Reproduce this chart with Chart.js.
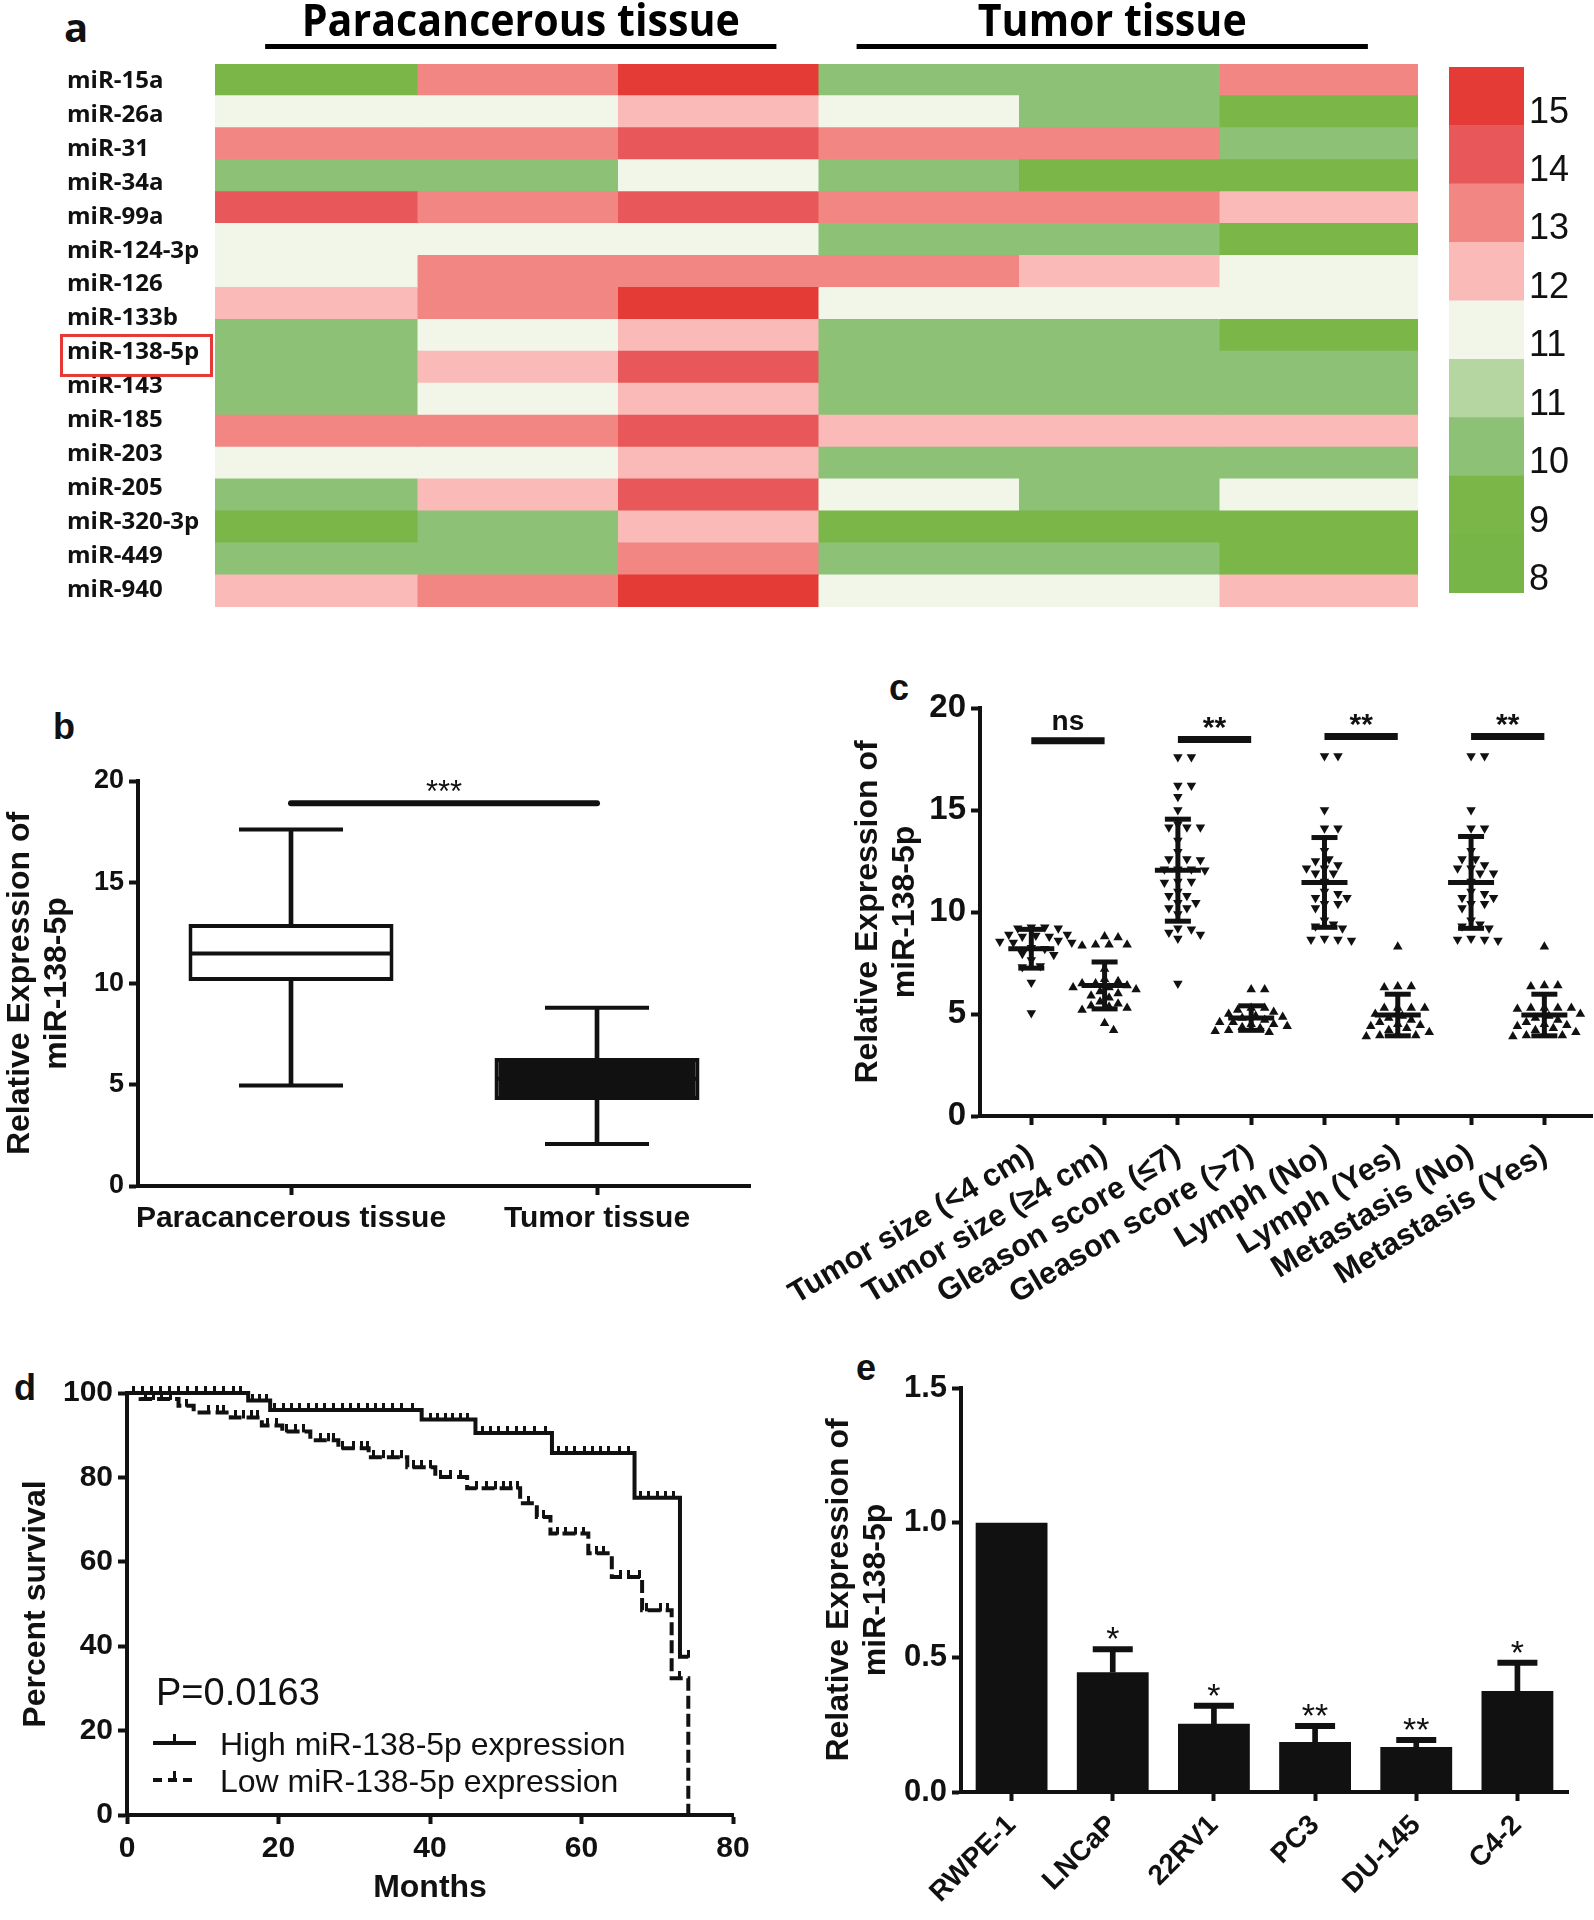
<!DOCTYPE html>
<html>
<head>
<meta charset="utf-8">
<script src="https://cdn.jsdelivr.net/npm/chart.js@4.4.1/dist/chart.umd.min.js"></script>
<style>
  body { margin: 0; background: #fff; width: 1594px; height: 1920px; position: relative; overflow: hidden; }
  canvas { position: absolute; }
  .tag { position: absolute; font-family: 'Liberation Sans', Arial, sans-serif; font-weight: bold; color: #111; line-height: 1; }
</style>
</head>
<body>
<div class="tag" style="left:64px;top:7px;font-size:40px;font-family:'Open Sans'">a</div>
<div class="tag" style="left:53px;top:709px;font-size:36px">b</div>
<div class="tag" style="left:889px;top:670px;font-size:36px">c</div>
<div class="tag" style="left:14px;top:1370px;font-size:36px">d</div>
<div class="tag" style="left:856px;top:1350px;font-size:36px">e</div>

<canvas id="heat" style="left:0;top:0" width="1422" height="612"></canvas>
<canvas id="key" style="left:1440px;top:60px" width="154" height="545"></canvas>
<canvas id="boxes" style="left:0;top:700px" width="780" height="560"></canvas>
<canvas id="dots" style="left:760px;top:660px" width="834" height="660"></canvas>
<canvas id="surv" style="left:0;top:1360px" width="780" height="560"></canvas>
<canvas id="cells" style="left:820px;top:1340px" width="774" height="580"></canvas>

<script>
// ---- a: heatmap ----
const mirNames = ['miR-15a', 'miR-26a', 'miR-31', 'miR-34a', 'miR-99a', 'miR-124-3p', 'miR-126', 'miR-133b',
  'miR-138-5p', 'miR-143', 'miR-185', 'miR-203', 'miR-205', 'miR-320-3p', 'miR-449', 'miR-940'];
const tissueGroups = ['Paracancerous tissue', 'Tumor tissue'];
// one row per heatmap stripe, 3 paracancerous + 3 tumor columns
const heatLevels = [
  [9, 13, 15, 10, 10, 13],
  [11, 11, 12, 11, 10, 9],
  [13, 13, 14, 13, 13, 10],
  [10, 10, 11, 10, 9, 9],
  [14, 13, 14, 13, 13, 12],
  [11, 11, 11, 10, 10, 9],
  [11, 13, 13, 13, 12, 11],
  [12, 13, 15, 11, 11, 11],
  [10, 11, 12, 10, 10, 9],
  [10, 12, 14, 10, 10, 10],
  [10, 11, 12, 10, 10, 10],
  [13, 13, 14, 12, 12, 12],
  [11, 11, 12, 10, 10, 10],
  [10, 12, 14, 11, 10, 11],
  [9, 10, 12, 9, 9, 9],
  [10, 10, 13, 10, 10, 9],
  [12, 13, 15, 11, 11, 12]
];
const levelColors = { 8: '#78B548', 9: '#7AB648', 10: '#8DC176', 11: '#F2F6E9', 12: '#F9BAB8', 13: '#F18683', 14: '#E8585A', 15: '#E53B36' };
const keyLabels = ['8', '9', '10', '11', '11', '12', '13', '14', '15'];
const keyColors = ['#78B548', '#7AB648', '#8DC176', '#B5D6A1', '#F2F6E9', '#F9BAB8', '#F18683', '#E8585A', '#E53B36'];

// ---- b: box plot ----
const boxLabels = ['Paracancerous tissue', 'Tumor tissue'];
const boxMin = [4.96, 2.08];
const boxQ1 = [10.12, 4.25];
const boxMedian = [11.48, 5.3];
const boxQ3 = [12.94, 6.32];
const boxMax = [17.6, 8.8];
const boxSigY = 18.9;

// ---- c: scatter by clinical group ----
const groupNames = ['Tumor size (<4 cm)', 'Tumor size (≥4 cm)', 'Gleason score (≤7)', 'Gleason score (>7)',
  'Lymph (No)', 'Lymph (Yes)', 'Metastasis (No)', 'Metastasis (Yes)'];
const sizeSmall = [9.25, 9.25, 9.2, 9.2, 8.9, 8.85, 8.9, 8.8, 8.8, 8.55, 8.6, 8.5, 8.5, 8.25, 8.2, 7.95, 7.9, 7.65, 7.35, 7.3, 6.55, 5.05];
const sizeLarge = [8.8, 8.75, 8.4, 8.4, 8.4, 8.35, 7.2, 6.7, 6.6, 6.5, 6.5, 6.4, 6.3, 6.3, 6.2, 6.1, 6.0, 5.9, 5.8, 5.6, 5.5, 5.4, 5.35, 5.3, 5.2, 4.55, 4.2];
const gleasonLow = [17.6, 17.6, 16.2, 16.2, 15.65, 15.0, 14.3, 14.15, 14.15, 14.15, 13.5, 12.95, 12.6, 12.6, 12.55, 12.1, 12.1, 12.1, 12.05,
  11.5, 11.5, 11.45, 11.0, 10.8, 10.8, 10.45, 10.45, 10.2, 10.2, 9.9, 9.2, 9.15, 9.0, 8.9, 8.7, 6.5];
const gleasonHigh = [6.2, 6.2, 5.3, 5.3, 5.2, 5.1, 5.0, 4.9, 4.85, 4.8, 4.7, 4.6, 4.6, 4.5, 4.5, 4.4, 4.35, 4.3, 4.2, 4.15, 4.1];
const lymphNo = [17.65, 17.65, 15.0, 14.1, 14.1, 13.0, 12.6, 12.5, 12.3, 12.15, 12.15, 11.9, 11.9, 11.5, 11.0, 10.9, 10.7, 10.7,
  10.4, 10.4, 10.2, 9.6, 9.4, 9.3, 9.2, 8.7, 8.65, 8.65, 8.6];
const lymphYes = [8.3, 6.35, 6.35, 6.3, 5.3, 5.3, 5.3, 5.3, 5.0, 4.9, 4.8, 4.7, 4.6, 4.5, 4.45, 4.4, 4.3, 4.2, 4.1, 4.0, 3.95, 3.95, 3.9];
const metNo = [17.65, 17.65, 15.0, 14.1, 14.1, 13.0, 12.6, 12.6, 12.3, 12.15, 12.15, 11.9, 11.9, 11.5, 11.0, 10.9, 10.7, 10.7,
  10.4, 10.4, 10.2, 9.6, 9.4, 9.3, 9.2, 8.7, 8.65, 8.65, 8.6];
const metYes = [8.3, 6.4, 6.4, 6.35, 5.3, 5.3, 5.3, 5.3, 5.25, 5.0, 4.9, 4.8, 4.7, 4.6, 4.5, 4.45, 4.4, 4.3, 4.2, 4.1, 4.0, 3.95, 3.95, 3.9];
const groupMean = [8.2, 6.4, 12.05, 4.8, 11.45, 4.95, 11.45, 4.95];
const groupSD = [0.95, 1.15, 2.5, 0.6, 2.2, 1.02, 2.25, 1.02];
const sigPairs = [[0, 1], [2, 3], [4, 5], [6, 7]];
const sigY = [18.4, 18.45, 18.6, 18.6];
const sigText = ['ns', '**', '**', '**'];

// ---- d: survival ----
const highTime = [0, 16.0, 18.9, 38.9, 46.0, 56.1, 67.0, 73.0, 74.1];
const highSurv = [100, 98.2, 96.0, 93.7, 90.5, 85.8, 75.2, 37.5, 37.5];
const lowTime = [0, 1.8, 6.8, 8.8, 13.7, 17.8, 20.5, 24.2, 27.9, 31.9, 37.0, 40.7, 44.9, 51.9, 54.1, 55.9, 60.9, 64.0, 68.0, 71.9, 74.1];
const lowSurv = [100, 98.6, 97.0, 95.4, 94.2, 92.3, 90.9, 88.8, 86.9, 84.8, 82.4, 80.1, 77.4, 73.9, 70.6, 66.7, 62.0, 56.4, 48.5, 32.4, 0];
const highCensor = [0.9, 2.1, 3.3, 4.4, 5.6, 6.8, 8.0, 9.2, 10.4, 11.6, 12.8, 14.0, 15.0, 16.6, 17.5, 18.4, 19.5, 20.6, 21.7, 22.8,
  23.9, 25.0, 26.1, 27.3, 28.4, 29.5, 30.6, 31.7, 32.8, 33.9, 35.0, 36.2, 37.7, 40.0, 41.0, 42.0, 43.0, 44.0, 45.0, 46.9, 48.0,
  49.1, 50.2, 51.4, 52.5, 53.8, 55.2, 56.9, 58.0, 59.1, 60.4, 61.5, 62.5, 63.6, 65.0, 66.2, 67.8, 68.9, 70.0, 71.1, 72.1, 74.1];
const lowCensor = [2.4, 3.5, 4.6, 5.7, 7.9, 10.8, 11.9, 12.7, 14.3, 15.4, 16.5, 17.2, 18.5, 19.8, 21.1, 22.2, 23.3, 25.5, 26.6,
  27.3, 28.4, 29.9, 31.0, 31.7, 32.5, 33.8, 35.0, 36.3, 37.8, 38.9, 40.0, 41.4, 42.7, 44.0, 46.2, 47.5, 48.6, 49.7, 50.6, 51.5,
  53.0, 55.0, 56.8, 57.9, 59.2, 60.2, 62.0, 62.9, 65.1, 66.2, 67.7, 68.6, 70.4, 71.4, 73.0];
const survNames = ['High miR-138-5p expression', 'Low miR-138-5p expression'];
const pValueText = 'P=0.0163';

// ---- e: cell lines ----
const cellLines = ['RWPE-1', 'LNCaP', '22RV1', 'PC3', 'DU-145', 'C4-2'];
const cellMean = [1.0, 0.445, 0.253, 0.186, 0.167, 0.375];
const cellErr = [0, 0.085, 0.067, 0.059, 0.026, 0.105];
const cellStars = ['', '*', '*', '**', '**', '*'];

const INK = '#111';
const yTitleText = ['Relative Expression of', 'miR-138-5p'];

Chart.defaults.font.family = "'Liberation Sans', Arial, sans-serif";
Chart.defaults.color = INK;
Chart.defaults.animation = false;
Chart.defaults.responsive = false;
Chart.defaults.devicePixelRatio = 1;
Chart.defaults.events = [];
Chart.defaults.layout.autoPadding = false;
Chart.defaults.plugins.legend.display = false;
Chart.defaults.plugins.tooltip.enabled = false;

function axis(size, pad) {
  return {
    grid: { display: true, drawOnChartArea: false, drawTicks: true, tickLength: 9, tickWidth: 4, tickColor: INK, offset: false },
    border: { display: true, width: 4, color: INK },
    ticks: { color: INK, font: { size: size, weight: 'bold' }, padding: pad, autoSkip: false }
  };
}

// fixed scale box, no extra label padding pushed into the layout
function fixWidth(w) {
  return s => { s.width = w; s.paddingTop = 0; s.paddingBottom = 0; };
}
function fixHeight(h) {
  return s => { s.height = h; s.paddingLeft = 0; s.paddingRight = 0; };
}

function yTitle(text, pad) {
  return { display: true, text: text, color: INK, font: { size: 32, weight: 'bold', lineHeight: 1.15 }, padding: { top: pad, bottom: 0 } };
}

// text sitting a fixed gap above a bar (significance marks)
function markAbove(ctx, text, x, barY, font) {
  ctx.save();
  ctx.font = font;
  ctx.fillStyle = INK;
  ctx.textAlign = 'center';
  ctx.textBaseline = 'alphabetic';
  const m = ctx.measureText(text);
  ctx.fillText(text, x, barY - 11 - m.actualBoundingBoxDescent);
  ctx.restore();
}

// ---------- a ----------
const rowIds = heatLevels.map((_, i) => 'row' + i);
const heatSets = [0, 1, 2, 3, 4, 5].map(c => ({
  data: heatLevels.map(() => [c, c + 1.01]),
  backgroundColor: heatLevels.map(r => levelColors[r[c]]),
  yAxisID: 'yRows',
  barPercentage: 1.04,
  categoryPercentage: 1,
  grouped: false,
  borderWidth: 0
}));

const heatDecor = {
  id: 'heatDecor',
  afterDraw(chart) {
    const { ctx, scales } = chart;
    const x = scales.x;
    const spans = [[0.25, 2.8], [3.2, 5.75]];
    ctx.save();
    ctx.fillStyle = '#000';
    ctx.font = "bold 44px 'Open Sans'";
    const sx = 438 / ctx.measureText(tissueGroups[0]).width;
    tissueGroups.forEach((name, i) => {
      const x0 = x.getPixelForValue(spans[i][0]);
      const x1 = x.getPixelForValue(spans[i][1]);
      ctx.fillRect(x0, 44, x1 - x0, 5);
      ctx.save();
      ctx.translate((x0 + x1) / 2, 36);
      ctx.scale(sx, 1);
      ctx.textAlign = 'center';
      ctx.fillText(name, 0, 0);
      ctx.restore();
    });
    const yl = scales.yLab;
    const cy = yl.getPixelForValue(mirNames.indexOf('miR-138-5p')) + 3;
    ctx.strokeStyle = '#E53935';
    ctx.lineWidth = 3;
    ctx.strokeRect(61.5, cy - 20, 150, 40);
    ctx.restore();
  }
};

new Chart(document.getElementById('heat'), {
  type: 'bar',
  data: { labels: rowIds, datasets: heatSets },
  options: {
    indexAxis: 'y',
    layout: { padding: { left: 67, top: 64, right: 4, bottom: 5 } },
    scales: {
      x: { type: 'linear', min: 0, max: 6, display: false },
      yRows: { type: 'category', labels: rowIds, display: false, offset: true },
      yLab: {
        type: 'category', labels: mirNames, position: 'left', offset: true,
        grid: { display: false, drawTicks: false }, border: { display: false },
        ticks: { crossAlign: 'far', color: INK, padding: 0, autoSkip: false, font: { family: "'Open Sans'", weight: 'bold', size: 24 } },
        afterFit: fixWidth(148)
      }
    }
  },
  plugins: [heatDecor]
});

new Chart(document.getElementById('key'), {
  type: 'bar',
  data: {
    labels: [''],
    datasets: keyColors.map(c => ({ data: [1], backgroundColor: c, barPercentage: 1, categoryPercentage: 1, borderWidth: 0 }))
  },
  options: {
    layout: { padding: { left: 9, top: 7, bottom: 12, right: 0 } },
    scales: {
      x: { stacked: true, display: false },
      y: {
        stacked: true, position: 'right', min: 0, max: 9,
        grid: { display: false, drawTicks: false }, border: { display: false },
        afterBuildTicks: s => { s.ticks = keyLabels.map((_, i) => ({ value: i + 0.22 })); },
        afterFit: fixWidth(70),
        ticks: { padding: 5, autoSkip: false, color: INK, font: { size: 36 }, callback: (v, i) => keyLabels[i] }
      }
    }
  }
});

// ---------- b ----------
const boxSigMark = {
  id: 'boxSigMark',
  afterDatasetsDraw(chart) {
    const { ctx, scales: { x, y } } = chart;
    const cx = (x.getPixelForValue(0) + x.getPixelForValue(1)) / 2;
    markAbove(ctx, '***', cx, y.getPixelForValue(boxSigY), "31px 'Liberation Sans'");
  }
};

const bx = axis(30, 6);
bx.ticks.maxRotation = 0;
bx.afterFit = fixHeight(74);
const by = axis(27, 5);
by.min = 0; by.max = 20;
by.ticks.stepSize = 5;
by.title = yTitle(yTitleText, 2);
by.afterFit = fixWidth(138);

new Chart(document.getElementById('boxes'), {
  type: 'bar',
  data: {
    labels: boxLabels,
    datasets: [
      // box drawn first (higher order), median and whiskers on top
      { data: boxQ1.map((q, i) => [q, boxQ3[i]]), backgroundColor: ['#fff', INK], borderColor: INK, borderWidth: 4,
        borderSkipped: false, barPercentage: 0.67, categoryPercentage: 1, grouped: false, order: 2 },
      { data: boxQ3.map((q, i) => [q, boxMax[i]]), backgroundColor: INK, barThickness: 4, grouped: false, order: 1 },
      { data: boxMin.map((m, i) => [m, boxQ1[i]]), backgroundColor: INK, barThickness: 4, grouped: false, order: 1 },
      { type: 'line', data: boxMax, showLine: false, pointStyle: 'line', pointRadius: 52, pointBorderWidth: 4, pointBorderColor: INK, order: 0 },
      { type: 'line', data: boxMin, showLine: false, pointStyle: 'line', pointRadius: 52, pointBorderWidth: 4, pointBorderColor: INK, order: 0 },
      { type: 'line', data: boxMedian, showLine: false, pointStyle: 'line', pointRadius: 100, pointBorderWidth: 4, pointBorderColor: INK, order: 0 },
      { type: 'line', data: boxLabels.map(() => boxSigY), borderColor: INK, borderWidth: 6, pointRadius: 0, borderCapStyle: 'round', clip: false, order: 0 }
    ]
  },
  options: {
    layout: { padding: { top: 81, right: 30, left: 0, bottom: 0 } },
    scales: { x: bx, y: by }
  },
  plugins: [boxSigMark]
});

// ---------- c ----------
const PX_X = 73.3, PX_Y = 20.4;
// simple bee-swarm: spread equal-ish values sideways so markers don't overlap
function swarm(values, gi) {
  const placed = [];
  return values.slice().sort((a, b) => b - a).map(v => {
    const py = v * PX_Y;
    let dx = 0;
    for (let k = 0; k < 80; k++) {
      const cand = (k % 2 ? 1 : -1) * Math.ceil(k / 2) * 4.5;
      const free = placed.every(p => ((p.x - cand) / 9.5) ** 2 + ((p.y - py) / 8.5) ** 2 >= 1);
      if (free) { dx = cand; break; }
    }
    placed.push({ x: dx, y: py });
    return { x: gi + dx / PX_X, y: v };
  });
}

const groupValues = [sizeSmall, sizeLarge, gleasonLow, gleasonHigh, lymphNo, lymphYes, metNo, metYes];
const downPts = [], upPts = [];
groupValues.forEach((vals, gi) => {
  (gi % 2 === 0 ? downPts : upPts).push(...swarm(vals, gi));
});

const sdStems = [];
groupMean.forEach((m, i) => {
  sdStems.push({ x: i, y: m - groupSD[i] }, { x: i, y: m + groupSD[i] }, { x: i, y: null });
});
const sdCaps = [];
groupMean.forEach((m, i) => { sdCaps.push({ x: i, y: m + groupSD[i] }, { x: i, y: m - groupSD[i] }); });
const sigBars = [];
sigPairs.forEach((p, i) => { sigBars.push({ x: p[0], y: sigY[i] }, { x: p[1], y: sigY[i] }, { x: p[1], y: null }); });

const dotSigMarks = {
  id: 'dotSigMarks',
  afterDatasetsDraw(chart) {
    const { ctx, scales: { x, y } } = chart;
    sigPairs.forEach((p, i) => {
      const cx = (x.getPixelForValue(p[0]) + x.getPixelForValue(p[1])) / 2;
      const font = sigText[i] === 'ns' ? "bold 28px 'Liberation Sans'" : "bold 30px 'Liberation Sans'";
      markAbove(ctx, sigText[i], cx, y.getPixelForValue(sigY[i]), font);
    });
  }
};

const cx = axis(31, 12);
cx.type = 'linear'; cx.min = -0.7; cx.max = 7.65;
cx.afterBuildTicks = s => { s.ticks = groupNames.map((_, i) => ({ value: i })); };
cx.ticks.callback = v => groupNames[v];
cx.ticks.minRotation = 31; cx.ticks.maxRotation = 31;
cx.afterFit = fixHeight(204);
const cy = axis(33, 5);
cy.min = 0; cy.max = 20;
cy.ticks.stepSize = 5;
cy.title = yTitle(yTitleText, 90);
cy.afterFit = fixWidth(220);

new Chart(document.getElementById('dots'), {
  type: 'scatter',
  data: {
    datasets: [
      { data: downPts, pointStyle: 'triangle', pointRotation: 180, pointRadius: 5.5, pointBackgroundColor: INK, pointBorderWidth: 0 },
      { data: upPts, pointStyle: 'triangle', pointRadius: 5.5, pointBackgroundColor: INK, pointBorderWidth: 0 },
      { data: sdStems, showLine: true, borderColor: INK, borderWidth: 5, pointRadius: 0, spanGaps: false },
      { data: groupMean.map((m, i) => ({ x: i, y: m })), pointStyle: 'line', pointRadius: 23, pointBorderWidth: 5, pointBorderColor: INK },
      { data: sdCaps, pointStyle: 'line', pointRadius: 13, pointBorderWidth: 5, pointBorderColor: INK },
      { data: sigBars, showLine: true, borderColor: INK, borderWidth: 7, pointRadius: 0, spanGaps: false, clip: false }
    ]
  },
  options: {
    layout: { padding: { top: 48, right: 2, left: 0, bottom: 0 } },
    scales: { x: cx, y: cy }
  },
  plugins: [dotSigMarks]
});

// ---------- d ----------
function survAt(times, surv, t) {
  let s = surv[0];
  times.forEach((tt, i) => { if (tt <= t) s = surv[i]; });
  return s;
}
function censorMark(h) {
  const c = document.createElement('canvas');
  c.width = 3; c.height = h * 2;
  const g = c.getContext('2d');
  g.fillStyle = INK;
  g.fillRect(0, 0, 3, h + 1);
  return c;
}
const tick = censorMark(7);

const survLegend = {
  id: 'survLegend',
  afterDraw(chart) {
    const ctx = chart.ctx;
    ctx.save();
    ctx.fillStyle = INK;
    ctx.strokeStyle = INK;
    ctx.font = "38px 'Liberation Sans'";
    ctx.textBaseline = 'alphabetic';
    ctx.fillText(pValueText, 156, 345);
    ctx.font = "32px 'Liberation Sans'";
    [383, 420].forEach((yy, i) => {
      ctx.lineWidth = 4;
      ctx.setLineDash(i ? [9, 6] : []);
      ctx.beginPath();
      ctx.moveTo(153, yy); ctx.lineTo(196, yy);
      ctx.stroke();
      ctx.setLineDash([]);
      ctx.fillRect(173, yy - 9, 3, 9);
      ctx.fillText(survNames[i], 220, yy + 11.5);
    });
    ctx.restore();
  }
};

const dx = axis(30, 7);
dx.type = 'linear'; dx.min = 0; dx.max = 80;
dx.ticks.stepSize = 20;
dx.title = { display: true, text: 'Months', color: INK, font: { size: 32, weight: 'bold', lineHeight: 1.15 }, padding: { top: 0, bottom: 13 } };
dx.afterFit = fixHeight(105);
const dy = axis(30, 5);
dy.min = 0; dy.max = 100;
dy.ticks.stepSize = 20;
dy.title = yTitle('Percent survival', 18);
dy.afterFit = fixWidth(127);

new Chart(document.getElementById('surv'), {
  type: 'scatter',
  data: {
    datasets: [
      { data: highTime.map((t, i) => ({ x: t, y: highSurv[i] })), showLine: true, stepped: 'before', borderColor: INK, borderWidth: 4, pointRadius: 0, clip: false },
      { data: lowTime.map((t, i) => ({ x: t, y: lowSurv[i] })), showLine: true, stepped: 'before', borderColor: INK, borderWidth: 4, borderDash: [13, 5], pointRadius: 0, clip: false },
      { data: highCensor.map(t => ({ x: t, y: survAt(highTime, highSurv, t) })), pointStyle: tick, clip: false },
      { data: lowCensor.map(t => ({ x: t, y: survAt(lowTime, lowSurv, t) })), pointStyle: tick, clip: false }
    ]
  },
  options: {
    layout: { padding: { top: 33, right: 47, left: 0, bottom: 0 } },
    scales: { x: dx, y: dy }
  },
  plugins: [survLegend]
});

// ---------- e ----------
const cellStarMarks = {
  id: 'cellStarMarks',
  afterDatasetsDraw(chart) {
    const { ctx, scales: { x, y } } = chart;
    cellStars.forEach((s, i) => {
      if (!s) return;
      markAbove(ctx, s, x.getPixelForValue(i), y.getPixelForValue(cellMean[i] + cellErr[i]) + 1, "34px 'Liberation Sans'");
    });
  }
};

const ex = axis(28, 8);
ex.ticks.minRotation = 45; ex.ticks.maxRotation = 45;
ex.afterFit = fixHeight(128);
const ey = axis(31, 5);
ey.min = 0; ey.max = 1.5;
ey.ticks.stepSize = 0.5;
ey.ticks.callback = v => v.toFixed(1);
ey.title = yTitle(yTitleText, 1);
ey.afterFit = fixWidth(141);

new Chart(document.getElementById('cells'), {
  type: 'bar',
  data: {
    labels: cellLines,
    datasets: [
      { data: cellMean, backgroundColor: INK, barPercentage: 0.71, categoryPercentage: 1, grouped: false },
      { data: cellMean.map((m, i) => cellErr[i] > 0 ? [m, m + cellErr[i]] : null), backgroundColor: INK, barThickness: 5, grouped: false },
      { type: 'line', data: cellMean.map((m, i) => cellErr[i] > 0 ? m + cellErr[i] : null), showLine: false,
        pointStyle: 'line', pointRadius: 20, pointBorderWidth: 6, pointBorderColor: INK }
    ]
  },
  options: {
    layout: { padding: { top: 48, right: 26, left: 0, bottom: 0 } },
    scales: { x: ex, y: ey }
  },
  plugins: [cellStarMarks]
});
</script>
</body>
</html>
